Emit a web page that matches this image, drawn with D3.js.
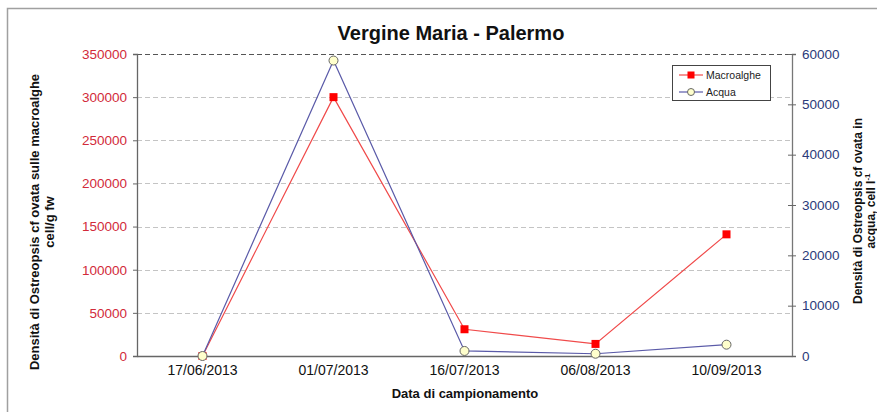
<!DOCTYPE html>
<html>
<head>
<meta charset="utf-8">
<script src="https://cdn.jsdelivr.net/npm/d3@7"></script>
<style>
  body { margin: 0; background: #fff; }
  svg { display: block; font-family: "Liberation Sans", Arial, sans-serif; }
</style>
</head>
<body>
<svg id="chart" width="877" height="412"></svg>
<script>
// Sampling dates
const dates = ["17/06/2013", "01/07/2013", "16/07/2013", "06/08/2013", "10/09/2013"];
// Ostreopsis cf ovata on macroalgae (cell/g fw) – left axis
const macroalghe = [0, 300000, 31000, 14000, 141000];
// Ostreopsis cf ovata in water (cell/l) – right axis
const acqua = [0, 58700, 1000, 450, 2250];
const leftTicks = [0, 50000, 100000, 150000, 200000, 250000, 300000, 350000];
const rightTicks = [0, 10000, 20000, 30000, 40000, 50000, 60000];

const svg = d3.select("#chart");
const plot = { left: 137, right: 792, top: 54, bottom: 356 };
const FONT = "Liberation Sans, Arial, sans-serif";

// outer frame
svg.append("rect")
  .attr("x", 7.5).attr("y", 8.5).attr("width", 880).attr("height", 420)
  .attr("fill", "#fff").attr("stroke", "#a0a0a0").attr("stroke-width", 1.5);

const x = d3.scaleBand().domain(dates).range([plot.left, plot.right]);
const yL = d3.scaleLinear().domain([0, 350000]).range([plot.bottom, plot.top]);
const yR = d3.scaleLinear().domain([0, 60000]).range([plot.bottom, plot.top]);
const cx = d => x(d) + x.bandwidth() / 2;

// horizontal gridlines
svg.append("g").selectAll("line")
  .data(leftTicks.filter(v => v > 0))
  .join("line")
  .attr("x1", plot.left).attr("x2", plot.right)
  .attr("y1", d => Math.round(yL(d)) + 0.5).attr("y2", d => Math.round(yL(d)) + 0.5)
  .attr("stroke", d => d === 350000 ? "#555" : "#c4c4c4")
  .attr("stroke-width", d => d === 350000 ? 1.2 : 1)
  .attr("stroke-dasharray", "5,3");

// left axis
const gL = svg.append("g").attr("transform", `translate(${plot.left},0)`)
  .call(d3.axisLeft(yL).tickValues(leftTicks).tickSize(4).tickPadding(6).tickFormat(d3.format("d")));
gL.select(".domain").attr("stroke", "#666").attr("stroke-width", 1.3);
gL.selectAll(".tick line").attr("stroke", "#666");
gL.selectAll(".tick text").attr("fill", "#d22a3a").attr("font-size", 13.5).attr("font-family", FONT);

// right axis (ticks cross the axis line)
const gR = svg.append("g").attr("transform", `translate(${plot.right},0)`)
  .call(d3.axisRight(yR).tickValues(rightTicks).tickSize(4).tickPadding(6).tickFormat(d3.format("d")));
gR.select(".domain").attr("stroke", "#777").attr("stroke-width", 1.3);
gR.selectAll(".tick line").attr("x1", -4).attr("stroke", "#666");
gR.selectAll(".tick text").attr("fill", "#2b3a7a").attr("font-size", 13.5).attr("font-family", FONT);

// bottom axis
const gB = svg.append("g").attr("transform", `translate(0,${plot.bottom})`)
  .call(d3.axisBottom(x).tickSize(0).tickPadding(9));
gB.select(".domain").attr("stroke", "#666").attr("stroke-width", 1.3);
gB.selectAll(".tick text").attr("fill", "#111").attr("font-size", 14).attr("font-family", FONT);

// series lines
const lineL = d3.line().x((d, i) => cx(dates[i])).y(d => yL(d));
const lineR = d3.line().x((d, i) => cx(dates[i])).y(d => yR(d));
svg.append("path").datum(macroalghe).attr("d", lineL)
  .attr("fill", "none").attr("stroke", "#f04a4a").attr("stroke-width", 1.2);
svg.append("path").datum(acqua).attr("d", lineR)
  .attr("fill", "none").attr("stroke", "#5a5aa8").attr("stroke-width", 1.2);

// markers
svg.append("g").selectAll("rect")
  .data(macroalghe).join("rect")
  .attr("x", (d, i) => cx(dates[i]) - 4).attr("y", d => yL(d) - 4)
  .attr("width", 8).attr("height", 8).attr("fill", "#ff0000");
svg.append("g").selectAll("circle")
  .data(acqua).join("circle")
  .attr("cx", (d, i) => cx(dates[i])).attr("cy", d => yR(d)).attr("r", 4.5)
  .attr("fill", "#ffffcc").attr("stroke", "#666").attr("stroke-width", 1);

// title
svg.append("text").attr("x", 451).attr("y", 40).attr("text-anchor", "middle")
  .attr("font-size", 20).attr("font-weight", "bold").attr("fill", "#111")
  .text("Vergine Maria - Palermo");

// x axis title
svg.append("text").attr("x", 465).attr("y", 398).attr("text-anchor", "middle")
  .attr("font-size", 13).attr("font-weight", "bold").attr("fill", "#111")
  .text("Data di campionamento");

// left axis title
const tL = svg.append("text").attr("transform", "translate(39,222) rotate(-90)")
  .attr("text-anchor", "middle").attr("font-size", 13).attr("font-weight", "bold").attr("fill", "#111");
tL.append("tspan").attr("x", 0).attr("dy", 0).text("Densità di Ostreopsis cf ovata sulle macroalghe");
tL.append("tspan").attr("x", 0).attr("dy", 15).text("cell/g fw");

// right axis title
const tR = svg.append("text").attr("transform", "translate(862,211) rotate(-90)")
  .attr("text-anchor", "middle").attr("font-size", 12).attr("font-weight", "bold").attr("fill", "#111");
tR.append("tspan").attr("x", 0).attr("dy", 0).text("Densità di Ostreopsis cf ovata in");
tR.append("tspan").attr("x", 0).attr("dy", 13).text("acqua, cell l");
tR.append("tspan").attr("font-size", 8).attr("dy", -5).text("-1");

// legend
const lg = svg.append("g").attr("transform", "translate(672,65)");
lg.append("rect").attr("x", 0.5).attr("y", 0.5).attr("width", 98).attr("height", 35)
  .attr("fill", "#fff").attr("stroke", "#444").attr("stroke-width", 1);
lg.append("line").attr("x1", 7).attr("x2", 31).attr("y1", 10).attr("y2", 10)
  .attr("stroke", "#f04a4a").attr("stroke-width", 1.2);
lg.append("rect").attr("x", 15.5).attr("y", 6.5).attr("width", 7).attr("height", 7).attr("fill", "#ff0000");
lg.append("text").attr("x", 34).attr("y", 14).attr("font-size", 10.5).attr("fill", "#222").text("Macroalghe");
lg.append("line").attr("x1", 7).attr("x2", 31).attr("y1", 27).attr("y2", 27)
  .attr("stroke", "#5a5aa8").attr("stroke-width", 1.2);
lg.append("circle").attr("cx", 19).attr("cy", 27).attr("r", 3.5)
  .attr("fill", "#ffffcc").attr("stroke", "#666");
lg.append("text").attr("x", 34).attr("y", 31).attr("font-size", 10.5).attr("fill", "#222").text("Acqua");
</script>
</body>
</html>
